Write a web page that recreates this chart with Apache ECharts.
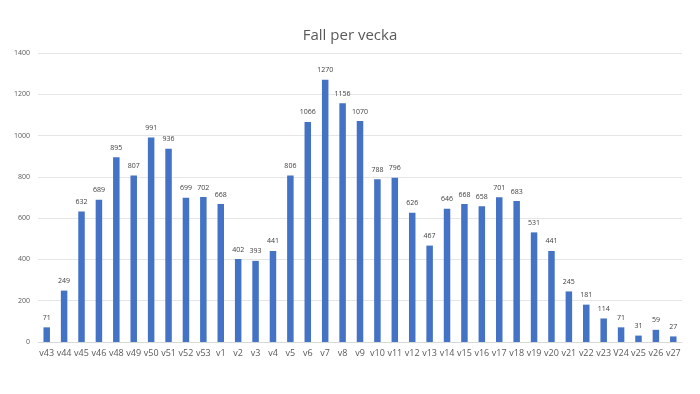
<!DOCTYPE html>
<html><head><meta charset="utf-8">
<script src="https://cdn.jsdelivr.net/npm/echarts@6/dist/echarts.min.js"></script>
<style>html,body{margin:0;padding:0;background:#fff}#c{width:700px;height:394px}</style>
</head><body><div id="c"></div>
<script>
const categories = ['v43','v44','v45','v46','v48','v49','v50','v51','v52','v53','v1','v2','v3','v4','v5','v6','v7','v8','v9','v10','v11','v12','v13','v14','v15','v16','v17','v18','v19','v20','v21','v22','v23','V24','v25','v26','v27'];
const values = [71,249,632,689,895,807,991,936,699,702,668,402,393,441,806,1066,1270,1156,1070,788,796,626,467,646,668,658,701,683,531,441,245,181,114,71,31,59,27];
const title = 'Fall per vecka';
const chart = echarts.init(document.getElementById('c'));
chart.setOption({
  animation:false,
  title:{text:title,left:'center',top:23,textStyle:{fontFamily:'Open Sans',fontSize:15,fontWeight:'normal',color:'#595959'}},
  grid:{left:38,right:18,top:53,bottom:52,containLabel:false},
  xAxis:{type:'category',data:categories,
    axisLine:{lineStyle:{color:'#d9d9d9'}},axisTick:{show:false},
    axisLabel:{interval:0,color:'#595959',fontFamily:'Open Sans',fontSize:9,margin:7}},
  yAxis:{type:'value',min:0,max:1400,interval:200,
    axisLine:{show:false},axisTick:{show:false},
    splitLine:{lineStyle:{color:'#e6e6e6'}},
    axisLabel:{color:'#595959',fontFamily:'Open Sans',fontSize:7,margin:8,formatter:function(v){return String(v);}}},
  series:[{type:'bar',data:values,barWidth:6.5,itemStyle:{color:'#4472C4'},
    label:{show:true,position:'top',distance:6,color:'#404040',fontFamily:'Open Sans',fontSize:7}}]
});
</script></body></html>
